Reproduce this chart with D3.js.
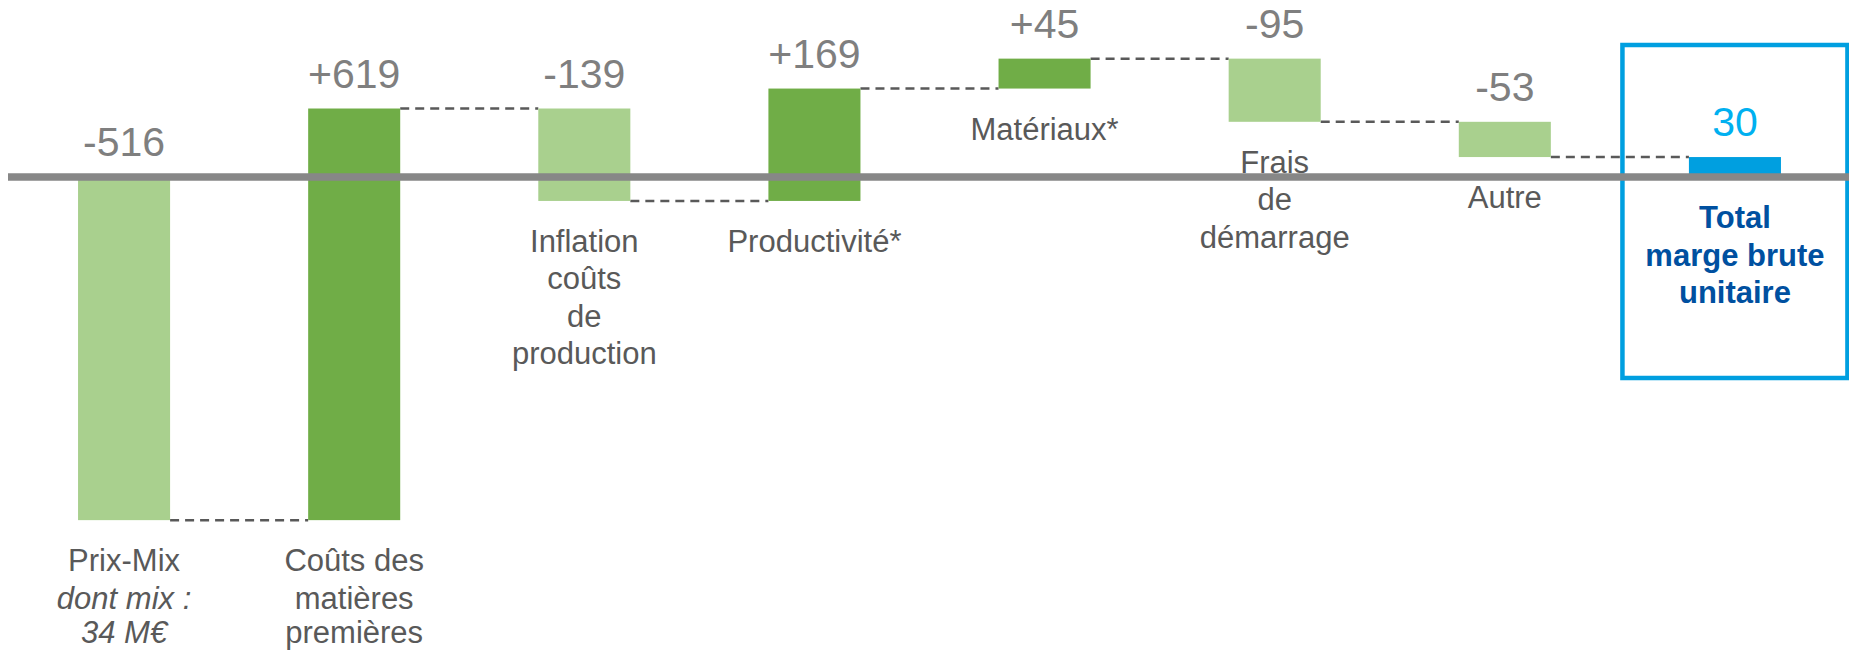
<!DOCTYPE html>
<html>
<head>
<meta charset="utf-8">
<script src="https://cdn.jsdelivr.net/npm/d3@7"></script>
<style>
  body { margin: 0; background: #fff; }
  svg { display: block; font-family: "Liberation Sans", Arial, sans-serif; }
</style>
</head>
<body>
<svg class="canvas" width="1849" height="653"></svg>
<script>
// waterfall data
const categories = [
    ['Prix-Mix', 'dont mix :', '34 M€'],
    ['Coûts des', 'matières', 'premières'],
    ['Inflation', 'coûts', 'de', 'production'],
    ['Productivité*'],
    ['Matériaux*'],
    ['Frais', 'de', 'démarrage'],
    ['Autre'],
    ['Total', 'marge brute', 'unitaire']
];
const deltas = [-516, 619, -139, 169, 45, -95, -53];
const totalValue = 30;
const valueLabels = ['-516', '+619', '-139', '+169', '+45', '-95', '-53', '30'];
const italicLines = [[1, 2], [], [], [], [], [], [], []];

// build steps (start / end of each bar)
let run = 0;
const steps = deltas.map((d, i) => {
    const s = { i, start: run, end: run + d, type: d < 0 ? 'neg' : 'pos' };
    run += d;
    return s;
});
steps.push({ i: deltas.length, start: 0, end: totalValue, type: 'total' });

const svg = d3.select('.canvas');
const width = 1849;

const x = d3.scaleBand()
    .domain(d3.range(steps.length))
    .range([9, 1850])
    .paddingInner(0.6)
    .paddingOuter(0.3);
const y = d3.scaleLinear().domain([-700, 300]).range([642.5, -22.5]);

const colors = { neg: '#a9d08e', pos: '#70ad47', total: '#009fe0' };

// total highlight box
const tc = x(steps.length - 1) + x.bandwidth() / 2;
svg.append('rect')
    .attr('x', tc - 112.5)
    .attr('y', 45)
    .attr('width', 225)
    .attr('height', 333)
    .attr('fill', 'none')
    .attr('stroke', '#009fe0')
    .attr('stroke-width', 4.5);

// connectors
svg.selectAll('line.conn')
    .data(steps.slice(0, -1))
    .enter()
    .append('line')
    .attr('class', 'conn')
    .attr('x1', (d) => x(d.i) + x.bandwidth())
    .attr('x2', (d) => x(d.i + 1))
    .attr('y1', (d) => y(d.end))
    .attr('y2', (d) => y(d.end))
    .attr('stroke', '#595959')
    .attr('stroke-width', 2.5)
    .attr('stroke-dasharray', '9,6');

// bars
svg.selectAll('rect.bar')
    .data(steps)
    .enter()
    .append('rect')
    .attr('class', 'bar')
    .attr('x', (d) => x(d.i))
    .attr('y', (d) => y(Math.max(d.start, d.end)))
    .attr('width', x.bandwidth())
    .attr('height', (d) => Math.abs(y(d.start) - y(d.end)))
    .attr('fill', (d) => colors[d.type]);

// zero line
svg.append('line')
    .attr('x1', 8)
    .attr('x2', width)
    .attr('y1', y(0))
    .attr('y2', y(0))
    .attr('stroke', '#878787')
    .attr('stroke-width', 7.5);

// value labels
svg.selectAll('text.value')
    .data(steps)
    .enter()
    .append('text')
    .attr('class', 'value')
    .attr('x', (d) => x(d.i) + x.bandwidth() / 2)
    .attr('y', (d) => y(Math.max(d.start, d.end)) - 21)
    .attr('text-anchor', 'middle')
    .attr('font-size', 41)
    .attr('fill', (d) => (d.type === 'total' ? '#00b0f0' : '#7f7f7f'))
    .text((d, i) => valueLabels[i]);

// category labels
const lineH = 37.5;
const cat = svg.selectAll('text.cat')
    .data(steps)
    .enter()
    .append('text')
    .attr('class', 'cat')
    .attr('text-anchor', 'middle')
    .attr('font-size', 31)
    .attr('font-weight', (d) => (d.type === 'total' ? 'bold' : 'normal'))
    .attr('fill', (d) => (d.type === 'total' ? '#0050a0' : '#595959'));

cat.each(function (d) {
    const cx = x(d.i) + x.bandwidth() / 2;
    const base = y(Math.min(d.start, d.end)) + 51;
    d3.select(this)
        .selectAll('tspan')
        .data(categories[d.i])
        .enter()
        .append('tspan')
        .attr('x', cx)
        .attr('y', (t, k) => Math.min(base + k * lineH, 643))
        .attr('font-style', (t, k) => (italicLines[d.i].includes(k) ? 'italic' : 'normal'))
        .text((t) => t);
});
</script>
</body>
</html>
